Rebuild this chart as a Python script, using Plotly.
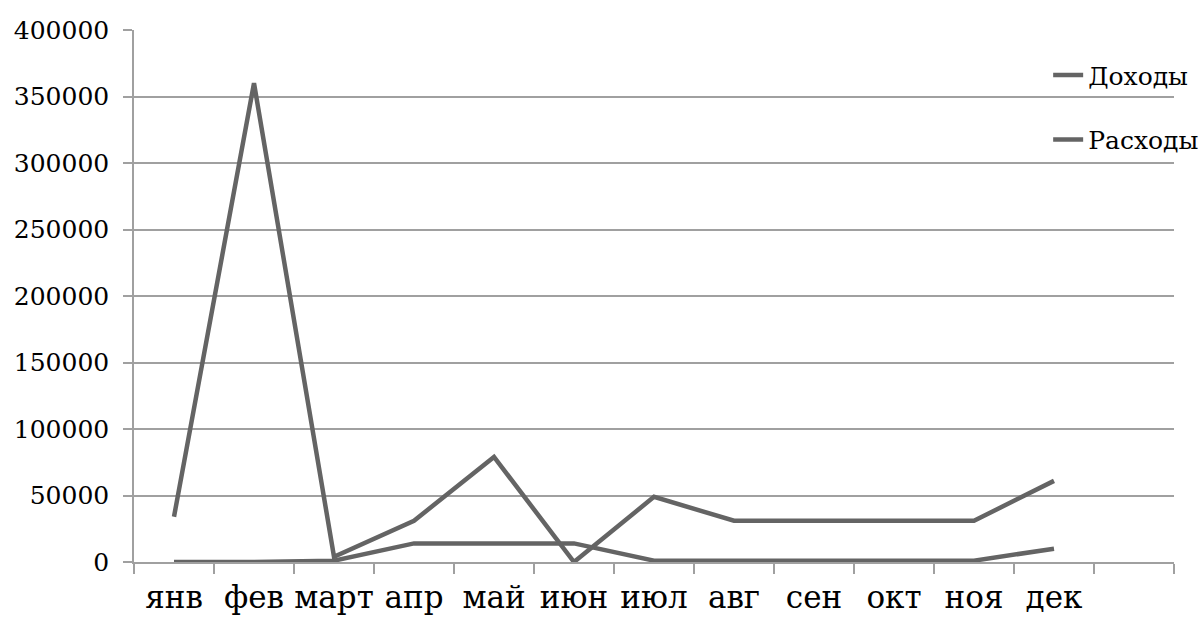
import plotly.graph_objects as go

months = ["янв", "фев", "март", "апр", "май", "июн", "июл", "авг", "сен", "окт", "ноя", "дек"]
income = [34000, 360000, 4000, 31000, 79000, 0, 49000, 31000, 31000, 31000, 31000, 61000]
expenses = [0, 0, 1000, 14000, 14000, 14000, 1000, 1000, 1000, 1000, 1000, 10000]
y_ticks = [0, 50000, 100000, 150000, 200000, 250000, 300000, 350000, 400000]

FONT = "DejaVu Serif"
LINE = "#646464"
GRID = "#a0a0a0"

fig = go.Figure()
fig.add_trace(go.Scatter(x=months, y=income, mode="lines", name="Доходы",
                         line=dict(color=LINE, width=4.5), legendgroup="g1"))
fig.add_trace(go.Scatter(x=months, y=expenses, mode="lines", name="Расходы",
                         line=dict(color=LINE, width=4.5), legendgroup="g2"))

fig.update_layout(
    width=1203, height=626,
    margin=dict(l=134, r=29, t=30, b=64, autoexpand=False),
    paper_bgcolor="white", plot_bgcolor="white",
    font=dict(family=FONT, color="black"),
    xaxis=dict(
        type="category", categoryarray=months + [" "], range=[-0.5, 12.5],
        tickson="boundaries", ticks="outside", ticklen=10, tickcolor=GRID, tickwidth=1.5,
        showline=True, linecolor=GRID, linewidth=1.5, tickangle=0,
        showgrid=False, zeroline=False, ticklabelstandoff=7,
        tickfont=dict(size=31, family=FONT, color="black"),
    ),
    yaxis=dict(
        range=[0, 400000], tickvals=y_ticks, ticktext=[str(v) for v in y_ticks],
        ticks="outside", ticklen=9, tickcolor=GRID, tickwidth=1.5,
        showline=True, linecolor=GRID, linewidth=1.5,
        showgrid=True, gridcolor=GRID, gridwidth=1.5, zeroline=False,
        ticklabelstandoff=9,
        tickfont=dict(size=25, family=FONT, color="black"),
    ),
    legend=dict(x=0.879, y=0.958, xanchor="left", yanchor="top",
                traceorder="grouped", tracegroupgap=29,
                bgcolor="rgba(0,0,0,0)", borderwidth=0,
                font=dict(size=25, family=FONT, color="black")),
)

fig.write_html("out.html")
